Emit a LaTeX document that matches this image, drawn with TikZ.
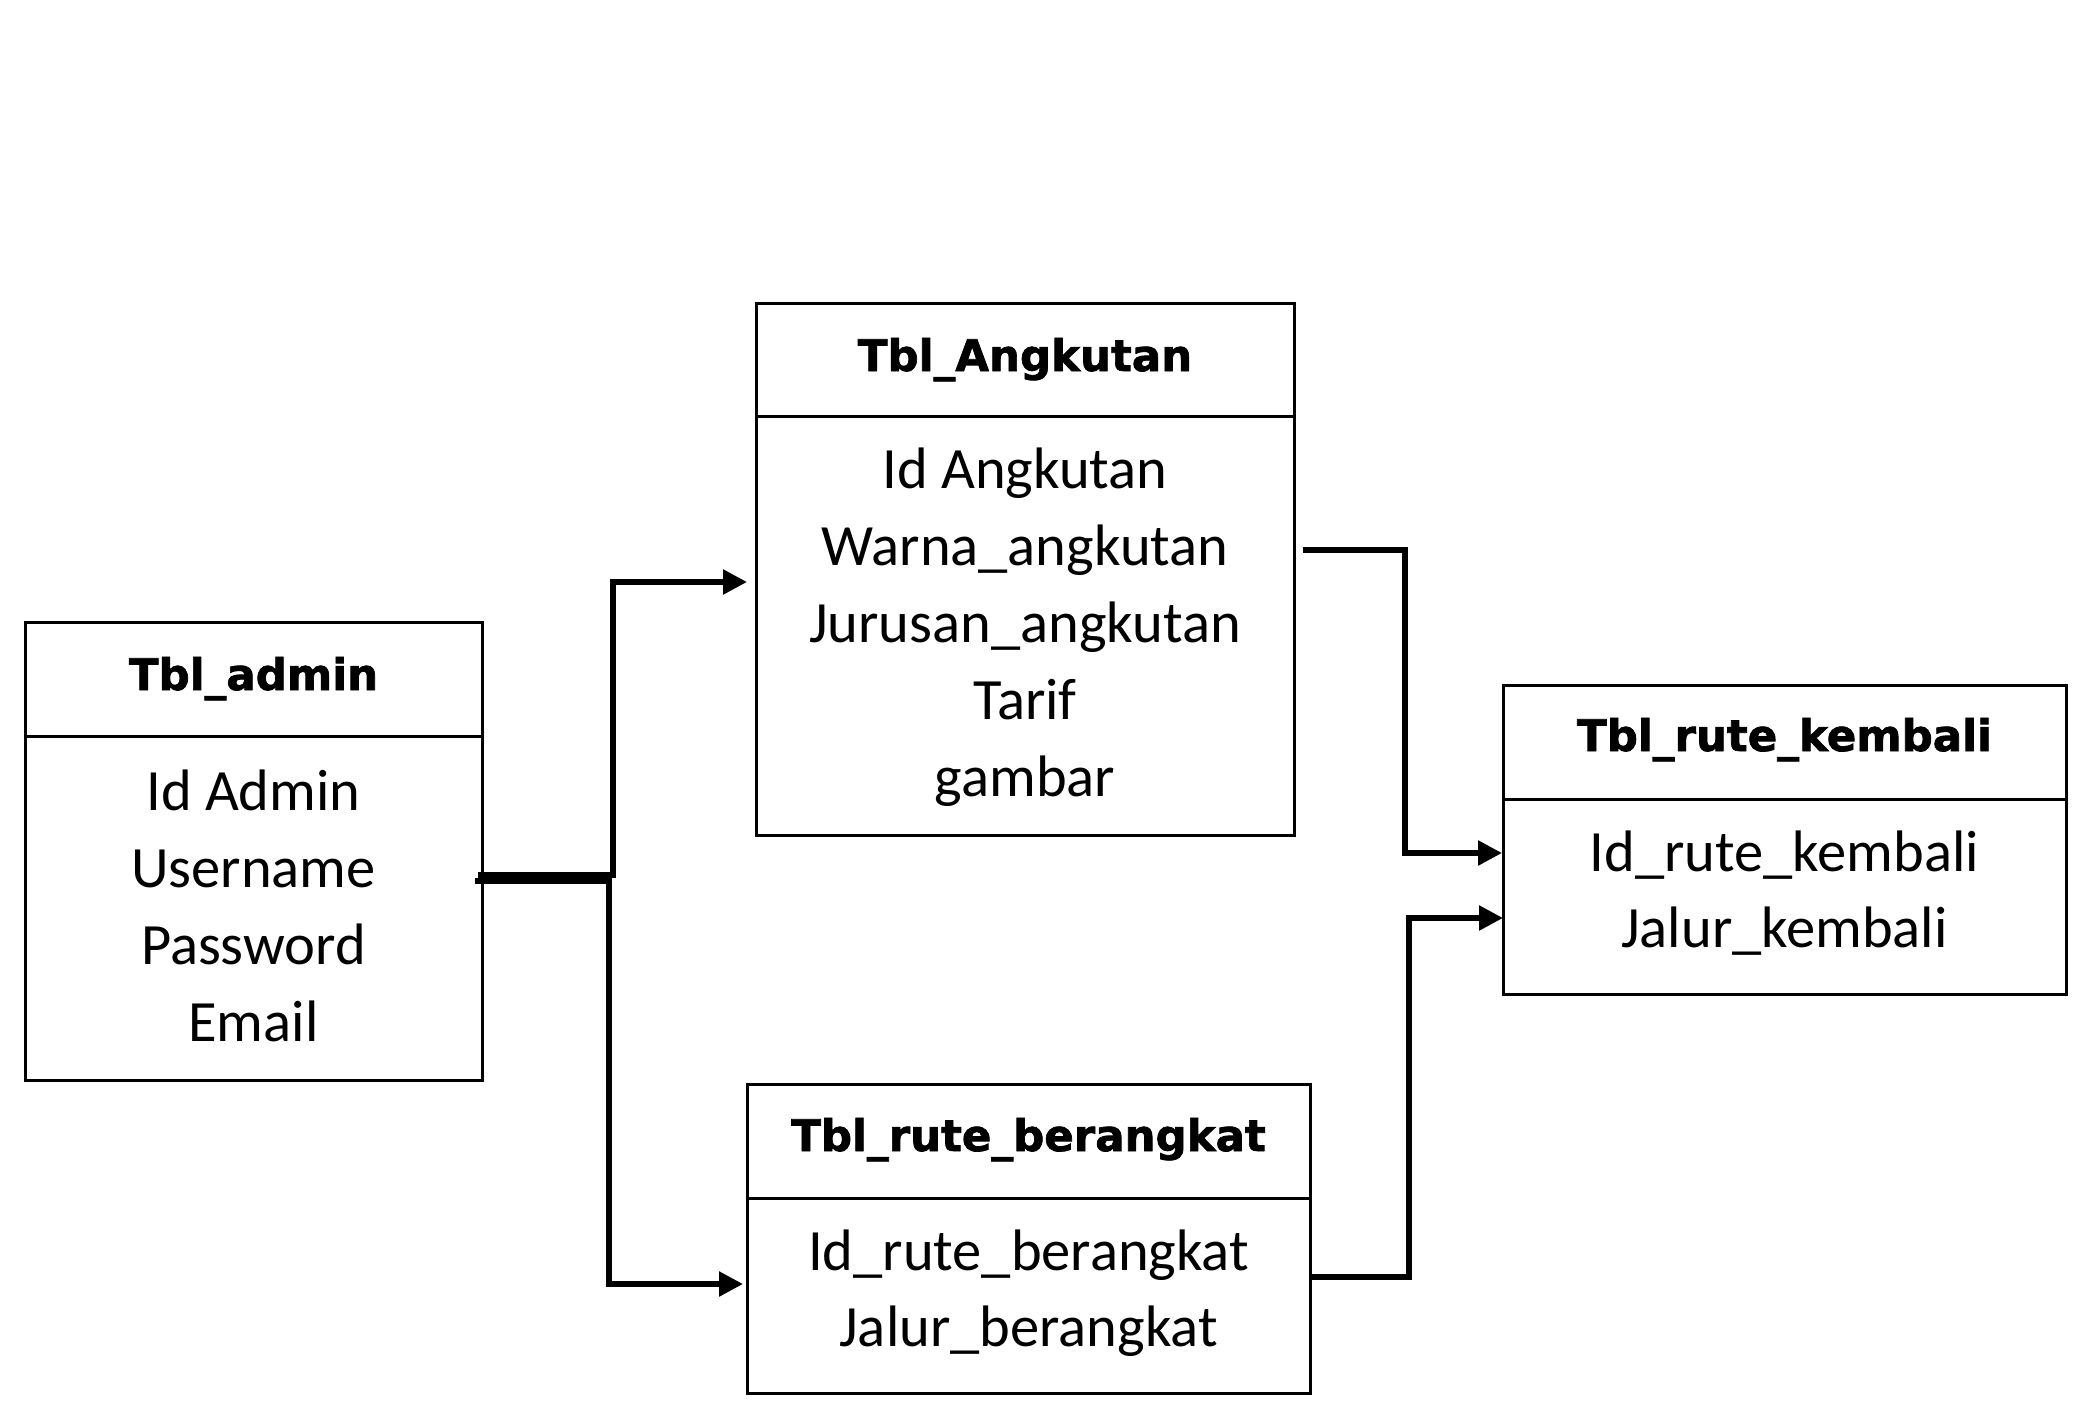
\documentclass[tikz,border=0pt]{standalone}
\usepackage{fontspec}
\setmainfont{Carlito}
\newfontfamily\titlefont{DejaVu Sans Bold}[FakeBold=1.6]
\usetikzlibrary{arrows.meta}
\begin{document}
\begin{tikzpicture}[x=1pt,y=-1pt,
  tbox/.style={draw,line width=3pt,rectangle,inner sep=0pt,outer sep=0pt},
  divline/.style={line width=3pt},
  ttl/.style={anchor=base,inner sep=0pt,font=\titlefont\fontsize{43.5}{52}\selectfont},
  itm/.style={anchor=base,inner sep=0pt,font=\fontsize{58.5}{70}\selectfont},
  conn/.style={line width=5.5pt,-{Triangle[length=24pt,width=24pt]}}]
\useasboundingbox (0,0) rectangle (2091,1419);
% boxes
\node[tbox,minimum width=457pt,minimum height=458pt] (admin) at (253.5,851) {};
\node[tbox,minimum width=538pt,minimum height=532pt] (angk) at (1025,569) {};
\node[tbox,minimum width=563pt,minimum height=309pt] (brg) at (1028.5,1238.5) {};
\node[tbox,minimum width=563pt,minimum height=309pt] (kmb) at (1784.5,839.5) {};
% dividers
\draw[divline] (admin.west |- 0,736) -- (admin.east |- 0,736);
\draw[divline] (angk.west |- 0,416) -- (angk.east |- 0,416);
\draw[divline] (brg.west |- 0,1198) -- (brg.east |- 0,1198);
\draw[divline] (kmb.west |- 0,799) -- (kmb.east |- 0,799);
% titles
\node[ttl] (t1) at (253.5,690) {Tbl\_admin};
\node[ttl] (t2) at (1025,371) {Tbl\_Angkutan};
\node[ttl] (t3) at (1028.5,1151) {Tbl\_rute\_berangkat};
\node[ttl] (t4) at (1784.5,751) {Tbl\_rute\_kembali};
% items
\node[itm] (a1) at (253.5,810) {Id Admin};
\node[itm] (a2) at (253.5,887) {Username};
\node[itm] (a3) at (253.5,964) {Password};
\node[itm] (a4) at (253.5,1041) {Email};
\node[itm] (g1) at (1025,488) {Id Angkutan};
\node[itm] (g2) at (1025,565) {Warna\_angkutan};
\node[itm] (g3) at (1025,642) {Jurusan\_angkutan};
\node[itm] (g4) at (1025,719) {Tarif};
\node[itm] (g5) at (1025,796) {gambar};
\node[itm] (b1) at (1028.5,1270) {Id\_rute\_berangkat};
\node[itm] (b2) at (1028.5,1346) {Jalur\_berangkat};
\node[itm] (k1) at (1784.5,871) {Id\_rute\_kembali};
\node[itm] (k2) at (1784.5,947) {Jalur\_kembali};
% connector endpoints
\coordinate (s1) at (478,875);
\coordinate (e1) at (747,582);
\coordinate (s2) at (475,881);
\coordinate (e2) at (743,1284);
\coordinate (s3) at (1303,550);
\coordinate (e3) at (1502,853);
\coordinate (s4) at (1310,1277);
\coordinate (e4) at (1503,918);
% connectors
\draw[conn] (s1) -- (613,875) -- (613,582) -- (e1);
\draw[conn] (s2) -- (609,881) -- (609,1284) -- (e2);
\draw[conn] (s3) -- (1405,550) -- (1405,853) -- (e3);
\draw[conn] (s4) -- (1409,1277) -- (1409,918) -- (e4);
\end{tikzpicture}
\end{document}
